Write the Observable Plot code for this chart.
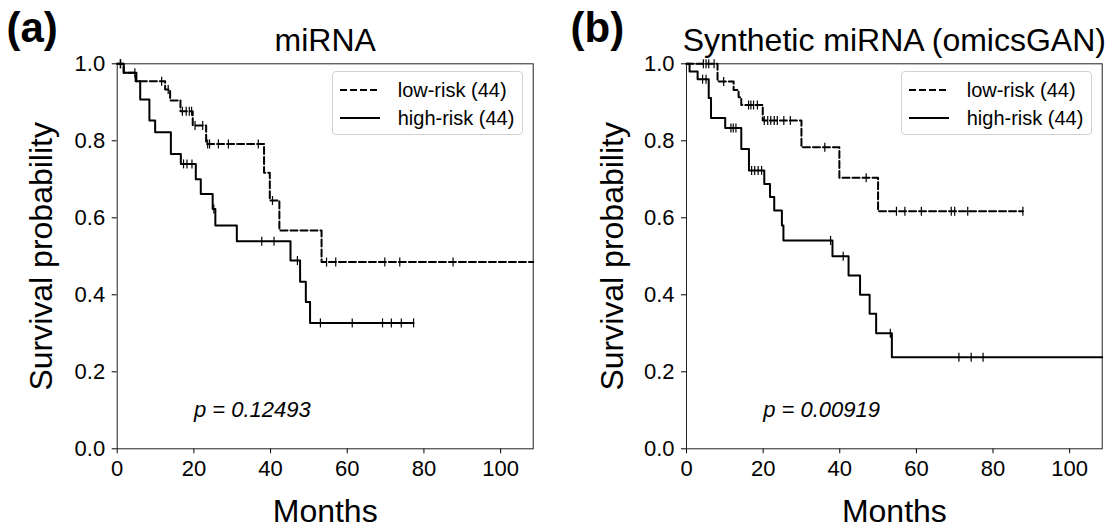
<!DOCTYPE html>
<html><head><meta charset="utf-8">
<script src="https://cdn.jsdelivr.net/npm/d3@7"></script>
<script src="https://cdn.jsdelivr.net/npm/@observablehq/plot@0.6"></script>
<style>
body{margin:0;background:#fff;}
#wrap{position:relative;width:1112px;height:529px;overflow:hidden;background:#fff;font-family:'Liberation Sans',Arial,Helvetica,sans-serif;}
.panel{position:absolute;top:0;width:556px;height:529px;}
.panel g[aria-label^="x-axis"] text, .panel g[aria-label^="y-axis"] text{font-size:22px;}
.legend{position:absolute;width:189px;height:62px;border:1px solid #d0d0d0;border-radius:4px;background:rgba(255,255,255,0.8);}
.legend .row{position:absolute;left:0;height:20px;width:189px;}
.legend svg{position:absolute;left:6px;top:0;}
.legend span{position:absolute;left:65px;top:0;font-size:20px;line-height:20px;color:#000;white-space:nowrap;}
</style></head><body><div id="wrap"></div>
<script>
// ---- data ----
const groups = ["low-risk (44)", "high-risk (44)"];
const xTicks = [0, 20, 40, 60, 80, 100];
const yTicks = [0, 0.2, 0.4, 0.6, 0.8, 1.0];
const xMax = 108.5;

// (a) miRNA
const aLowTime  = [0, 1.7, 4.8, 12.5, 13.8, 16.5, 19.7, 23.2, 38.3, 39.8, 42.3, 53.3, 108.5];
const aLowSurv  = [1, 0.977, 0.955, 0.933, 0.905, 0.877, 0.84, 0.792, 0.717, 0.645, 0.567, 0.485, 0.485];
const aLowCens  = [0.8, 11.6, 13.3, 17.0, 18.0, 18.8, 19.4, 20.3, 22.3, 23.6, 24.1, 26.4, 29.0, 36.8, 40.5, 54.6, 57.0, 69.8, 73.7, 87.6];
const aHighTime = [0, 1.7, 5.0, 6.0, 8.4, 9.9, 14.0, 16.6, 20.5, 21.8, 24.9, 25.6, 31.2, 45.2, 47.7, 49.2, 50.3, 77.3];
const aHighSurv = [1, 0.977, 0.955, 0.907, 0.853, 0.822, 0.766, 0.74, 0.70, 0.662, 0.623, 0.58, 0.539, 0.489, 0.434, 0.381, 0.327, 0.327];
const aHighCens = [0.9, 4.6, 17.3, 18.2, 19.5, 25.2, 37.7, 40.9, 47.0, 53.0, 61.3, 69.2, 71.5, 74.1, 77.3];
const aP = "p = 0.12493";

// (b) Synthetic miRNA (omicsGAN)
const bLowTime  = [0, 8.1, 12.3, 13.6, 14.3, 19.9, 30.0, 39.9, 50.0, 87.8];
const bLowSurv  = [1, 0.954, 0.932, 0.913, 0.893, 0.853, 0.783, 0.704, 0.617, 0.617];
const bLowCens  = [4.4, 5.1, 5.8, 7.2, 9.7, 16.2, 16.8, 17.5, 18.5, 20.3, 21.2, 22.0, 22.9, 23.7, 25.4, 27.1, 36.1, 46.9, 54.8, 57.0, 61.3, 69.1, 70.0, 73.4, 87.8];
const bHighTime = [0, 0.8, 2.9, 5.8, 6.4, 10.1, 14.3, 16.3, 20.3, 21.8, 22.9, 24.9, 25.3, 38.1, 42.3, 45.3, 47.8, 49.5, 53.6, 108.5];
const bHighSurv = [1, 0.98, 0.96, 0.911, 0.859, 0.833, 0.779, 0.723, 0.688, 0.654, 0.619, 0.58, 0.541, 0.5, 0.45, 0.40, 0.351, 0.30, 0.238, 0.238];
const bHighCens = [4.2, 5.1, 11.6, 12.2, 12.9, 17.0, 17.8, 18.7, 19.6, 37.6, 40.9, 53.2, 71.1, 74.3, 77.4];
const bP = "p = 0.00919";

// ---- helpers ----
const font = "'Liberation Sans', Arial, Helvetica, sans-serif";
const toPts = (T, S) => T.map((t, i) => ({t, s: S[i]}));
const survAt = (T, S, t) => { let s = 1; T.forEach((tt, i) => { if (tt <= t) s = S[i]; }); return s; };
const cens = (C, T, S) => C.map(t => ({t, s: survAt(T, S, t)}));
const censorSymbol = { draw(ctx, size) { const h = Math.sqrt(size / Math.PI); ctx.moveTo(0, -h); ctx.lineTo(0, h); } };

function panel(cfg) {
  const top = 63.3, bottom = 448.3;
  return Plot.plot({
    width: 556, height: 529,
    marginLeft: cfg.ml, marginRight: cfg.mr, marginTop: top, marginBottom: 529 - bottom,
    style: {fontFamily: font, fontSize: "22px", color: "#000", background: "transparent", overflow: "visible"},
    x: {domain: [0, xMax], ticks: xTicks, tickSize: 5, tickPadding: 7, label: null},
    y: {domain: [0, 1], ticks: yTicks, tickFormat: d => d.toFixed(1), tickSize: 5, tickPadding: 7, label: null},
    marks: [
      Plot.frame({stroke: "#222", strokeWidth: 1}),
      Plot.line(toPts(cfg.lowT, cfg.lowS), {x: "t", y: "s", curve: "step-after", stroke: "#000", strokeWidth: 2, strokeDasharray: "7,3"}),
      Plot.line(toPts(cfg.highT, cfg.highS), {x: "t", y: "s", curve: "step-after", stroke: "#000", strokeWidth: 2}),
      Plot.dot(cens(cfg.lowC, cfg.lowT, cfg.lowS), {x: "t", y: "s", symbol: censorSymbol, r: 4.5, fill: "none", stroke: "#000", strokeWidth: 1.2}),
      Plot.dot(cens(cfg.highC, cfg.highT, cfg.highS), {x: "t", y: "s", symbol: censorSymbol, r: 4.5, fill: "none", stroke: "#000", strokeWidth: 1.2}),
      Plot.text([cfg.p], {x: 20, y: 0.1, text: d => d, textAnchor: "start", lineAnchor: "middle", fontStyle: "italic", fontSize: 22, fill: "#000"}),
      Plot.text([cfg.title], {frameAnchor: "top", dy: 50 - top, lineAnchor: "bottom", fontSize: 32, fill: "#000"}),
      Plot.text([cfg.tag], {frameAnchor: "top-left", dx: cfg.tagX - cfg.ml, dy: 41.5 - top, textAnchor: "start", lineAnchor: "bottom", fontSize: 42, fontWeight: "bold", fill: "#000"}),
      Plot.text(["Months"], {frameAnchor: "bottom", dy: 521.7 - bottom, lineAnchor: "bottom", fontSize: 32, fill: "#000"}),
      Plot.text(["Survival probability"], {frameAnchor: "left", dx: cfg.ylabX - cfg.ml, rotate: -90, textAnchor: "middle", lineAnchor: "middle", fontSize: 32, fill: "#000"})
    ]
  });
}

function legend(left, top) {
  const el = document.createElement("div");
  el.className = "legend";
  el.style.left = left + "px"; el.style.top = top + "px";
  const dashes = ["7,3", null];
  groups.forEach((g, i) => {
    const row = document.createElement("div");
    row.className = "row";
    row.style.top = (7.5 + i * 28) + "px";
    const d = dashes[i] ? `stroke-dasharray="${dashes[i]}"` : "";
    row.innerHTML = `<svg width="42" height="20"><line x1="1" y1="10" x2="41" y2="10" stroke="#000" stroke-width="2" ${d}/></svg><span>${g}</span>`;
    el.appendChild(row);
  });
  return el;
}

const wrap = document.getElementById("wrap");
const pa = document.createElement("div"); pa.className = "panel"; pa.style.left = "0px";
pa.appendChild(panel({ml: 116.7, mr: 556 - 532.7, lowT: aLowTime, lowS: aLowSurv, lowC: aLowCens, highT: aHighTime, highS: aHighSurv, highC: aHighCens, p: aP, title: "miRNA", tag: "(a)", tagX: 6, ylabX: 41}));
const pb = document.createElement("div"); pb.className = "panel"; pb.style.left = "556px";
pb.appendChild(panel({ml: 130, mr: 556 - 545.7, lowT: bLowTime, lowS: bLowSurv, lowC: bLowCens, highT: bHighTime, highS: bHighSurv, highC: bHighCens, p: bP, title: "Synthetic miRNA (omicsGAN)", tag: "(b)", tagX: 570 - 556, ylabX: 612 - 556}));
wrap.appendChild(pa); wrap.appendChild(pb);
wrap.appendChild(legend(331.7, 71.3));
wrap.appendChild(legend(900.7, 71.3));
</script>
</body></html>
